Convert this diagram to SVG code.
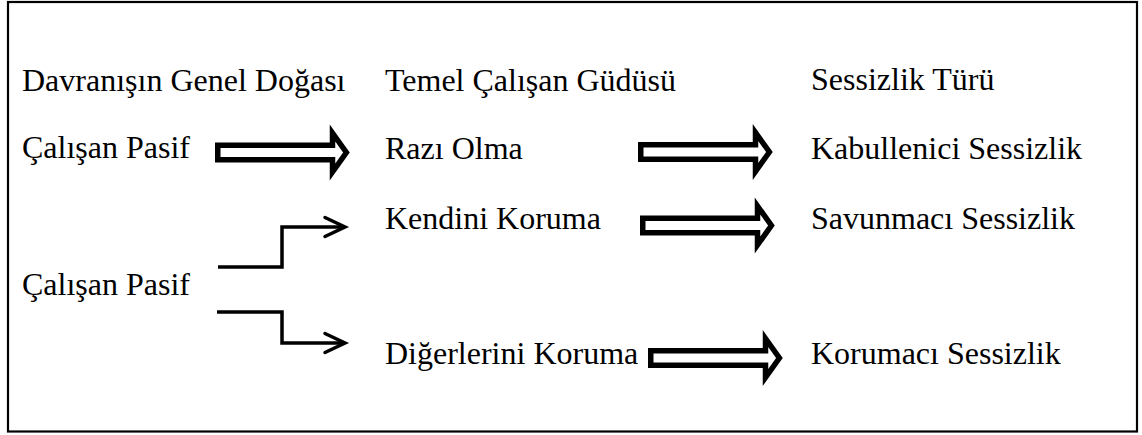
<svg xmlns="http://www.w3.org/2000/svg" xmlns:xlink="http://www.w3.org/1999/xlink" width="1142" height="435" viewBox="0 0 1142 435">
<style>
text{font-family:"Liberation Serif","Times New Roman",serif;font-size:32px;fill:#000}
.blk{fill:#fff;stroke:#000;stroke-width:5.5;stroke-linejoin:miter}
.step{fill:none;stroke:#000;stroke-width:3.5;stroke-linejoin:miter}
.chev{fill:none;stroke:#000;stroke-width:3.5;stroke-linecap:round;stroke-linejoin:miter}
</style>
<defs>
<path id="blockArrow" class="blk" d="M2.75,-7.25 H117.5 V-19.5 L131.4,0 L117.5,19.5 V7.25 H2.75 Z"/>
</defs>
<rect x="8" y="2" width="1129" height="429.5" fill="#fff" stroke="#000" stroke-width="2.2"/>
<g id="col1">
<g id="h1"><text x="22" y="91">Davranışın Genel Doğası</text></g>
<g id="n1"><text x="22" y="158">Çalışan Pasif</text></g>
<g id="n2"><text x="22" y="295">Çalışan Pasif</text></g>
</g>
<g id="col2">
<g id="h2"><text x="385" y="91">Temel Çalışan Güdüsü</text></g>
<g id="n3"><text x="385" y="159">Razı Olma</text></g>
<g id="n4"><text x="385" y="229">Kendini Koruma</text></g>
<g id="n5"><text x="385" y="364">Diğerlerini Koruma</text></g>
</g>
<g id="col3">
<g id="h3"><text x="811" y="90">Sessizlik Türü</text></g>
<g id="n6"><text x="811" y="159">Kabullenici Sessizlik</text></g>
<g id="n7"><text x="811" y="229">Savunmacı Sessizlik</text></g>
<g id="n8"><text x="811" y="364">Korumacı Sessizlik</text></g>
</g>
<g id="connectors">
<use xlink:href="#blockArrow" x="215" y="152.5"/>
<use xlink:href="#blockArrow" x="638" y="152"/>
<use xlink:href="#blockArrow" x="640" y="225.5"/>
<use xlink:href="#blockArrow" x="648" y="358"/>
<path class="step" d="M218,267 H282 V227 H344"/>
<path class="chev" d="M325,217.5 L345,227 L325,236.5"/>
<path class="step" d="M217,312 H282 V343 H344"/>
<path class="chev" d="M325,333.5 L345,343 L325,352.5"/>
</g>
</svg>
